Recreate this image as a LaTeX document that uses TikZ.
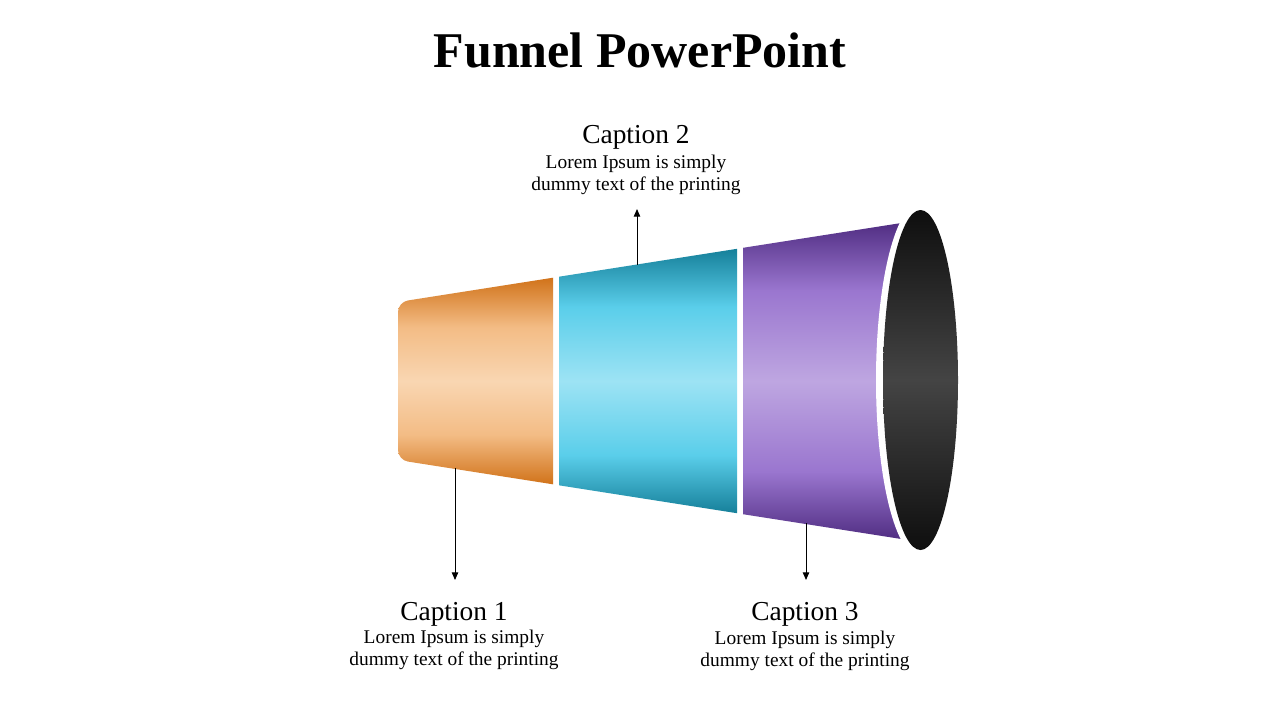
\documentclass[tikz,border=0pt]{standalone}
\usepackage{fontspec}
\setmainfont{Liberation Serif}
\usetikzlibrary{arrows.meta,calc}
\usepackage{xcolor}
\definecolor{orangedark}{HTML}{D1731A}
\definecolor{orangemid}{HTML}{F3BC85}
\definecolor{orangelight}{HTML}{F9D6B2}
\definecolor{tealdark}{HTML}{16809A}
\definecolor{tealmid}{HTML}{5ACEEA}
\definecolor{teallight}{HTML}{9DE3F4}
\definecolor{violetdark}{HTML}{4D2A7F}
\definecolor{violetmid}{HTML}{9A76CF}
\definecolor{violetlight}{HTML}{BEA6E1}
\definecolor{mouthdark}{HTML}{0E0E0E}
\definecolor{mouthlight}{HTML}{444444}
\pgfdeclareverticalshading{orangeband}{100bp}{color(0bp)=(orangedark); color(25bp)=(orangedark); color(37bp)=(orangemid); color(50bp)=(orangelight); color(63bp)=(orangemid); color(75bp)=(orangedark); color(100bp)=(orangedark)}
\pgfdeclareverticalshading{tealband}{100bp}{color(0bp)=(tealdark); color(25bp)=(tealdark); color(36bp)=(tealmid); color(50bp)=(teallight); color(64bp)=(tealmid); color(75bp)=(tealdark); color(100bp)=(tealdark)}
\pgfdeclareverticalshading{violetband}{100bp}{color(0bp)=(violetdark); color(25bp)=(violetdark); color(36bp)=(violetmid); color(50bp)=(violetlight); color(64bp)=(violetmid); color(75bp)=(violetdark); color(100bp)=(violetdark)}
\pgfdeclareverticalshading{mouthband}{100bp}{color(0bp)=(mouthdark); color(25bp)=(mouthdark); color(50bp)=(mouthlight); color(75bp)=(mouthdark); color(100bp)=(mouthdark)}

\begin{document}
\begin{tikzpicture}[x=0.5pt,y=-0.5pt,
        captitle/.style={font=\fontsize{13.7}{16}\selectfont, inner sep=0pt},
        captext/.style={font=\fontsize{9.7}{11}\selectfont, align=center, inner sep=0pt},
        pointer/.style={-{Triangle[width=3.2pt,length=3.8pt]}, line width=0.5pt}]
        \useasboundingbox[fill=white] (0,0) rectangle (1280,720);

        % Title
        \node[font=\fontsize{25}{30}\selectfont\bfseries, anchor=base] (title) at (640,67) {Funnel PowerPoint};

        % Funnel segments
        \shade[shading=orangeband] (553,277.7) [rounded corners=5pt] -- (398,302) -- (398,460) [sharp corners] -- (553,484.3) -- cycle;
        \shade[shading=tealband] (559,276.7) -- (737,248.8) -- (737,513.2) -- (559,485.3) -- cycle;
        \shade[shading=violetband] (743,247.8) -- (925,219.3) -- (925,542.7) -- (743,514.2) -- cycle;

        % Mouth
        \fill[white] (920,380) ellipse [x radius=22pt, y radius=88.5pt];
        \shade[shading=mouthband] (920.5,380) ellipse [x radius=18.75pt, y radius=85pt];

        % Pointers
        \coordinate (e1) at (455,468);
        \coordinate (t1) at (455,580);
        \coordinate (e2) at (637,265);
        \coordinate (t2) at (637,209);
        \coordinate (e3) at (806,523);
        \coordinate (t3) at (806,580);
        \draw[pointer] (e1) -- (t1);
        \draw[pointer] (e2) -- (t2);
        \draw[pointer] (e3) -- (t3);

        % Captions (base = last line)
        \node[captitle, anchor=base] (cap1) at (454,620) {Caption 1};
        \node[captext, anchor=base] (txt1) at (454,665) {Lorem Ipsum is simply\\dummy text of the printing};
        \node[captitle, anchor=base] (cap2) at (636,143) {Caption 2};
        \node[captext, anchor=base] (txt2) at (636,190) {Lorem Ipsum is simply\\dummy text of the printing};
        \node[captitle, anchor=base] (cap3) at (805,620) {Caption 3};
        \node[captext, anchor=base] (txt3) at (805,666) {Lorem Ipsum is simply\\dummy text of the printing};
    \end{tikzpicture}
\end{document}
